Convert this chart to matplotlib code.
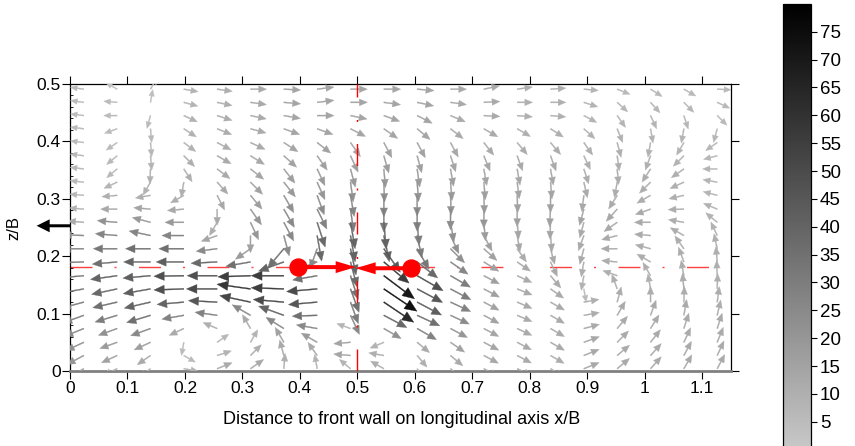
import numpy as np
import matplotlib
matplotlib.use("Agg")
import matplotlib.pyplot as plt
from matplotlib.colors import LinearSegmentedColormap, Normalize
from matplotlib.collections import PolyCollection
from matplotlib.ticker import MultipleLocator

plt.rcParams['font.family'] = ['Liberation Sans', 'DejaVu Sans']

# Measurement grid (x/B columns, z/B rows)
x_pos = [0.024, 0.082, 0.140, 0.198, 0.256, 0.314, 0.372, 0.430, 0.488, 0.546,
         0.604, 0.662, 0.720, 0.778, 0.836, 0.894, 0.952, 1.010, 1.068, 1.126]
z_pos = [0.004, 0.027, 0.050, 0.074, 0.097, 0.120, 0.143, 0.166, 0.190, 0.213, 0.236,
         0.259, 0.282, 0.306, 0.329, 0.352, 0.375, 0.398, 0.422, 0.445, 0.468, 0.491]

# Flow direction in degrees (counter-clockwise from +x); rows listed from top (z/B=0.491) down
angle_rows = [
    [172, 150, 60, -10, -8, 0, -3, 7, 0, 0, -5, 0, 12, 8, 4, -5, -22, -32, -30, -3],
    [172, 175, 80, -15, -12, -8, -5, 7, 0, -8, -12, -8, 3, 0, 0, -18, -42, -48, -45, -25],
    [173, 180, -105, -25, -18, -12, -10, 0, -12, -20, -27, -23, -3, -5, -5, -28, -55, -65, -72, -45],
    [173, 200, -85, -33, -22, -15, -20, -20, -27, -35, -40, -38, -30, -30, -33, -42, -68, -80, -100, -105],
    [173, 215, -85, -37, -28, -25, -33, -38, -55, -62, -62, -62, -52, -50, -50, -55, -75, -100, -120, -145],
    [173, 220, -85, -45, -30, -32, -42, -55, -65, -74, -75, -72, -68, -70, -70, -65, -82, -110, -135, -165],
    [173, 220, -92, -57, -37, -38, -52, -65, -75, -85, -82, -80, -80, -80, -80, -72, -85, -123, -145, 180],
    [174, 205, -120, -100, -48, -45, -52, -66, -82, -88, -86, -85, -85, -83, -85, -77, -100, -135, -155, 170],
    [175, 185, 190, 210, -63, -50, -60, -70, -80, -90, -90, -88, -88, -88, -90, -97, -122, -150, -167, 165],
    [175, 180, 175, 185, -90, -55, -60, -64, -82, -90, -90, -90, -90, -90, -93, -105, -132, -160, -178, 157],
    [175, 175, 165, 180, -120, -65, -62, -72, -80, -85, -85, -80, -85, -85, -92, -105, -145, 180, 170, 140],
    [178, 175, 168, 180, 200, -90, -75, -80, -80, -78, -78, -65, -62, -80, -85, -110, 195, 175, 150, 115],
    [180, 180, 180, 180, 187, -145, -130, -110, -78, -55, -60, -45, -42, -55, -75, -105, 180, 165, 125, 102],
    [182, 185, 180, 180, 183, 190, -160, 200, -75, -40, -38, -35, -32, -35, -65, -100, 175, 150, 110, 95],
    [185, 188, 185, 181, 180, 182, 180, 190, -72, -37, -30, -30, -28, -25, -50, -100, 160, 120, 100, 92],
    [190, 192, 190, 182, 180, 172, 178, 185, -70, -34, -28, -28, -28, -22, -35, -80, 110, 100, 95, 88],
    [195, 193, 193, 185, 177, 168, 175, 185, -70, -34, -28, -25, -28, -23, -30, 10, 75, 90, 88, 82],
    [200, 197, 197, 190, 172, 150, 160, 182, -65, -28, -25, -25, -28, -23, -30, 10, 60, 70, 80, 77],
    [202, 200, 200, 205, 157, 120, 148, 170, 160, -30, -30, -28, -28, -25, -30, 15, 50, 58, 72, 72],
    [205, 200, 205, -100, 35, 60, 120, 150, 185, 203, -40, -35, -28, -28, -30, 20, 45, 52, 65, 68],
    [208, 205, 215, -30, 18, 45, 105, 125, 175, 170, -50, -40, -28, -28, -30, 22, 40, 48, 62, 65],
    [210, 205, 215, -10, 22, 35, 85, 100, 140, 150, -55, -40, -28, -25, -30, 22, 40, 48, 60, 62],
]

# Velocity magnitude (colour-bar units); same row order
speed_rows = [
    [5, 4, 5, 8, 10, 12, 14, 14, 14, 14, 14, 12, 12, 10, 10, 8, 6, 6, 6, 6],
    [5, 5, 4, 8, 10, 12, 14, 14, 14, 14, 14, 12, 12, 10, 10, 8, 7, 7, 7, 6],
    [5, 5, 5, 9, 11, 12, 14, 14, 14, 14, 14, 12, 12, 10, 10, 8, 8, 8, 7, 6],
    [5, 5, 6, 9, 11, 12, 14, 14, 14, 14, 14, 12, 12, 10, 10, 9, 9, 8, 8, 7],
    [5, 5, 7, 9, 11, 12, 14, 15, 15, 15, 15, 13, 12, 11, 11, 10, 10, 9, 8, 7],
    [6, 6, 8, 10, 12, 13, 15, 16, 17, 17, 16, 14, 13, 12, 12, 10, 10, 10, 9, 7],
    [6, 6, 9, 10, 12, 14, 17, 18, 19, 19, 18, 16, 14, 13, 13, 11, 11, 11, 10, 8],
    [6, 8, 9, 10, 12, 15, 19, 20, 22, 22, 21, 18, 16, 14, 14, 12, 11, 11, 10, 8],
    [7, 10, 10, 10, 13, 17, 22, 24, 26, 26, 24, 21, 18, 15, 15, 13, 12, 11, 10, 8],
    [8, 13, 14, 13, 12, 20, 25, 28, 30, 30, 28, 24, 20, 16, 16, 14, 13, 12, 11, 9],
    [12, 22, 19, 19, 10, 20, 25, 38, 40, 40, 30, 22, 18, 14, 14, 12, 12, 12, 11, 9],
    [25, 27, 27, 27, 14, 15, 25, 38, 40, 40, 30, 22, 16, 13, 13, 12, 12, 12, 11, 9],
    [28, 32, 35, 35, 25, 18, 35, 25, 40, 45, 32, 22, 16, 12, 12, 12, 12, 11, 11, 10],
    [30, 35, 40, 42, 38, 35, 40, 25, 38, 56, 38, 26, 16, 12, 12, 10, 11, 11, 11, 10],
    [32, 40, 42, 48, 48, 55, 55, 35, 35, 70, 48, 30, 16, 12, 12, 9, 10, 10, 11, 10],
    [32, 38, 42, 48, 50, 58, 55, 50, 35, 74, 45, 30, 16, 12, 12, 5, 10, 10, 11, 10],
    [30, 35, 40, 40, 45, 52, 50, 45, 30, 64, 42, 28, 15, 12, 12, 10, 11, 11, 11, 11],
    [28, 30, 35, 28, 28, 25, 40, 35, 25, 38, 35, 24, 15, 12, 12, 11, 12, 12, 12, 11],
    [25, 22, 25, 12, 10, 12, 25, 25, 8, 22, 28, 20, 14, 12, 12, 12, 12, 12, 12, 12],
    [22, 18, 17, 5, 7, 8, 15, 18, 14, 9, 12, 15, 14, 12, 12, 13, 12, 12, 12, 12],
    [20, 15, 12, 5, 9, 10, 12, 12, 14, 10, 10, 12, 13, 12, 11, 13, 12, 12, 12, 12],
    [15, 10, 6, 8, 12, 12, 10, 8, 8, 10, 8, 10, 12, 12, 10, 13, 12, 12, 12, 12],
]

# Reference features
dot_x = [0.397, 0.5925]
dot_z = [0.181, 0.179]
tip_x = 0.497
line_z = 0.181
line_x_end = 1.118
wall_x = 0.5
inflow_z = 0.253

x_ticks = [0, 0.1, 0.2, 0.3, 0.4, 0.5, 0.6, 0.7, 0.8, 0.9, 1.0, 1.1]
x_labels = ['0', '0.1', '0.2', '0.3', '0.4', '0.5', '0.6', '0.7', '0.8', '0.9', '1', '1.1']
z_ticks = [0, 0.1, 0.2, 0.3, 0.4, 0.5]
z_labels = ['0', '0.1', '0.2', '0.3', '0.4', '0.5']
cbar_ticks = [5, 10, 15, 20, 25, 30, 35, 40, 45, 50, 55, 60, 65, 70, 75]

W, H = 855, 446
fig = plt.figure(figsize=(W / 100, H / 100), dpi=100)
ax = fig.add_axes([70 / W, (H - 371) / H, 661 / W, 287 / H])
ax.set_xlim(0, 1.15)
ax.set_ylim(0, 0.5)
px_per_unit = 661 / 1.15

cmap = LinearSegmentedColormap.from_list('speed_grey', ['#c8c8c8', '#000000'])
norm = Normalize(vmin=0, vmax=80)


def vector_outline(x0, z0, deg, speed):
    """Arrow polygon (shaft + triangular head) in data units, sized in pixels."""
    L = 11.5 + speed / 2.6
    hl = min(0.5 * L, 5.0 + 0.18 * L)
    hw = 0.85 * hl
    sw = 1.1
    local = np.array([[0, -sw / 2], [L - hl, -sw / 2], [L - hl, -hw / 2], [L, 0],
                      [L - hl, hw / 2], [L - hl, sw / 2], [0, sw / 2]])
    a = np.radians(deg)
    rot = np.array([[np.cos(a), -np.sin(a)], [np.sin(a), np.cos(a)]])
    return local @ rot.T / px_per_unit + np.array([x0, z0])


polys, values = [], []
for row_deg, row_spd, z0 in zip(angle_rows, speed_rows, z_pos[::-1]):
    for deg, s, x0 in zip(row_deg, row_spd, x_pos):
        polys.append(vector_outline(x0, z0, deg, s))
        values.append(s)

vectors = PolyCollection(polys, array=np.array(values, dtype=float), cmap=cmap,
                         norm=norm, edgecolors='face', linewidths=0.25, zorder=3)
ax.add_collection(vectors)

lw = 1.0
dash = tuple(np.array([22, 22, 2, 22.5]) * 0.72 / lw)
ax.plot([0, line_x_end], [line_z, line_z], color='red', alpha=0.75, lw=lw,
        dashes=dash, zorder=2)
ax.plot([wall_x, wall_x], [0, 0.5], color='red', lw=lw, dashes=dash, zorder=4)

for xd, zd in zip(dot_x, dot_z):
    ax.arrow(xd, zd, tip_x - xd, 0, width=4 / px_per_unit,
             head_width=12 / px_per_unit, head_length=20 / px_per_unit,
             length_includes_head=True, color='red', lw=0, zorder=5)
ax.plot(dot_x, dot_z, 'o', ms=12.2, color='red', mec='red', zorder=6)

ax.arrow(0, inflow_z, -0.058, 0, width=3 / px_per_unit,
         head_width=13 / px_per_unit, head_length=13 / px_per_unit,
         length_includes_head=True, color='black', lw=0, clip_on=False, zorder=6)

for side in ('left', 'top', 'right'):
    ax.spines[side].set_color('black')
    ax.spines[side].set_linewidth(0.9)
ax.spines['bottom'].set_color('#808080')
ax.spines['bottom'].set_linewidth(2)

ax.set_xticks(x_ticks)
ax.set_xticklabels(x_labels)
ax.set_yticks(z_ticks)
ax.set_yticklabels(z_labels)
ax.yaxis.set_minor_locator(MultipleLocator(0.02))
ax.tick_params(which='major', direction='out', length=5.8, width=0.8,
               top=True, right=True, labelsize=12.5)
ax.tick_params(axis='x', which='major', pad=1.5)
ax.tick_params(axis='y', which='major', pad=1)
ax.tick_params(axis='y', which='minor', direction='in', length=2.2, width=0.6,
               left=True, right=False)

fig.text(402 / W, 1 - 419 / H, 'Distance to front wall on longitudinal axis x/B',
         ha='center', va='center', fontsize=13)
fig.text(14 / W, 1 - 228 / H, 'z/B', rotation=90, ha='center', va='center',
         fontsize=12)

cax = fig.add_axes([783 / W, (H - 449.6) / H, 28 / W, (449.6 - 3.9) / H])
cb = fig.colorbar(vectors, cax=cax, ticks=cbar_ticks)
cb.outline.set_linewidth(0.9)
cb.ax.tick_params(length=4.3, width=0.8, labelsize=13.5, pad=2)

fig.savefig('out.png', dpi=100)
